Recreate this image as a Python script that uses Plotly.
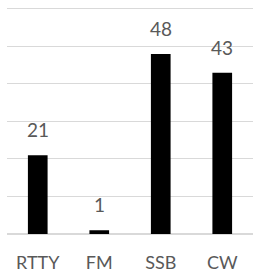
import plotly.graph_objects as go

categories = ["RTTY", "FM", "SSB", "CW"]
values = [21, 1, 48, 43]

fig = go.Figure(go.Bar(x=categories, y=values, marker=dict(color="#000000", line=dict(width=0)),
                       hoverinfo="skip"))

for c, v in zip(categories, values):
    fig.add_annotation(x=c, y=v, text=str(v), showarrow=False, yanchor="bottom", yshift=12,
                       font=dict(family="Lato", size=19, color="#595959"))

fig.update_layout(
    width=254, height=276,
    margin=dict(l=7, r=1, t=7, b=42),
    paper_bgcolor="white", plot_bgcolor="white",
    bargap=0.68, showlegend=False,
    xaxis=dict(showgrid=False, showline=False, ticks="", automargin=False, ticklabelstandoff=16,
               tickfont=dict(family="Lato", size=18, color="#595959")),
    yaxis=dict(range=[0, 60.5], tickvals=[0, 10, 20, 30, 40, 50, 60], showticklabels=False,
               showgrid=True, gridcolor="#d9d9d9", automargin=False,
               gridwidth=1.3, zeroline=True, zerolinecolor="#d9d9d9", zerolinewidth=1.6, showline=False),
)
fig.write_html("out.html", config={"displayModeBar": False},
               post_script="document.body.style.margin='0';document.body.style.overflow='hidden';")
